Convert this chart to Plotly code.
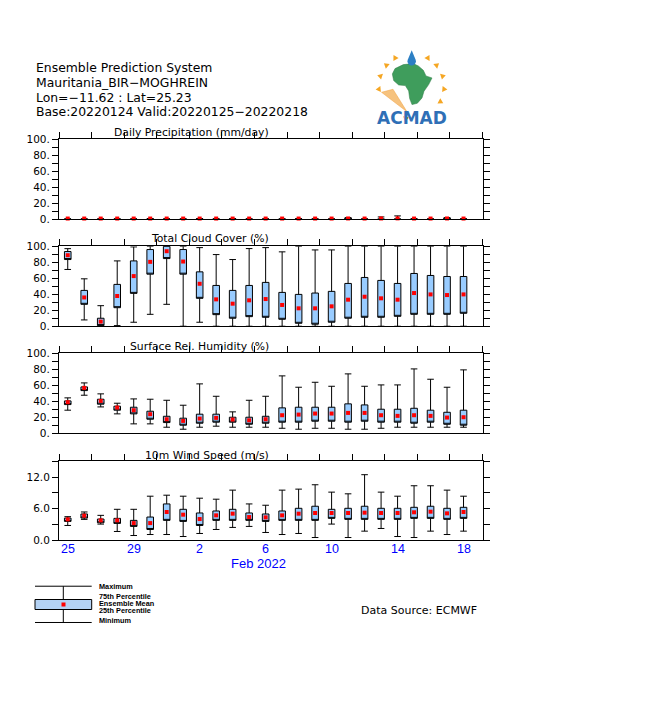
import numpy as np
import plotly.graph_objects as go

# page has an 8px body margin: the figure is sized to fit inside the 651x716 window
OFF = 8
W, H = 651 - 2 * OFF, 716 - 2 * OFF
S_Y, C_Y = 0.983, 344.0   # small vertical calibration of the capture
def px(x): return (x - OFF) / W
def py(y):
    yy = C_Y + (y - C_Y) / S_Y
    return 1 - (yy - OFF) / H

# ---------------- data ----------------
n_days = 25
day_index = list(range(n_days))
tick_idx = [0, 4, 8, 12, 16, 20, 24]
tick_labels = ["25", "29", "2", "6", "10", "14", "18"]
month_label = "Feb 2022"

header_lines = ["Ensemble Prediction System", "Mauritania_BIR\u2212MOGHREIN",
                "Lon=\u221211.62 : Lat=25.23", "Base:20220124 Valid:20220125\u221220220218"]

pr_max  = [0.5, 0.5, 0.5, 0.5, 0.5, 0.8, 0.5, 0.5, 0.8, 0.5, 0.8, 0.5, 0.5, 0.5, 0.8, 0.5, 0.5, 2.0, 0.5, 2.9, 4.2, 0.8, 0.5, 2.0, 0.8]
pr_q75  = [0.0, 0.0, 0.0, 0.0, 0.0, 0.5, 0.0, 0.0, 0.6, 0.0, 0.6, 0.0, 0.0, 0.0, 0.5, 0.0, 0.0, 1.6, 0.0, 0.0, 0.3, 0.0, 0.0, 1.6, 0.0]
pr_q25  = [0.0] * 25
pr_mean = [0.9, 0.9, 0.9, 0.9, 0.9, 0.9, 0.9, 0.9, 0.9, 0.9, 0.9, 0.9, 0.9, 0.9, 0.9, 0.9, 0.9, 1.0, 0.9, 1.0, 1.1, 0.9, 0.9, 1.0, 0.9]
pr_min  = [0.0] * 25

cc_max  = [97.0, 59.3, 25.7, 81.7, 99.2, 100, 100, 100, 98.3, 89.6, 83.4, 97.1, 98.3, 93.0, 100, 95.4, 95.4, 100, 100, 100, 100, 100, 100, 100, 100]
cc_q75  = [93.4, 44.8, 10.0, 52.3, 81.7, 95.9, 100, 95.9, 68.0, 51.0, 44.8, 51.0, 54.8, 42.3, 39.8, 41.5, 43.6, 53.5, 61.0, 57.3, 53.5, 66.0, 63.5, 62.2, 62.2]
cc_q25  = [83.4, 27.4, 0.8, 23.2, 41.1, 65.1, 84.6, 65.1, 34.9, 14.5, 10.0, 12.0, 11.2, 8.7, 3.7, 2.5, 5.0, 10.0, 11.2, 11.2, 12.4, 14.9, 14.9, 14.9, 16.2]
cc_mean = [88.8, 36.0, 5.8, 37.8, 62.7, 80.5, 93.8, 80.9, 53.1, 33.6, 28.2, 32.4, 34.0, 26.6, 22.4, 22.4, 24.9, 33.2, 36.9, 34.9, 33.2, 41.5, 39.8, 39.0, 39.8]
cc_min  = [71.0, 7.9, 0.0, 0.8, 5.0, 14.9, 27.4, 0.0, 5.0, 0.0, 0.0, 0.0, 0.0, 0.0, 0.0, 0.0, 0.0, 0.0, 0.0, 0.0, 0.0, 0.0, 0.0, 0.0, 0.0]

rh_max  = [44.2, 62.9, 49.2, 37.5, 42.9, 42.5, 41.2, 35.0, 61.7, 46.2, 26.7, 41.2, 46.2, 71.7, 57.5, 63.7, 58.7, 74.2, 58.7, 60.4, 60.4, 80.4, 67.5, 57.5, 79.2]
rh_q75  = [40.4, 57.9, 42.5, 33.8, 32.5, 27.5, 21.2, 18.8, 23.8, 23.8, 20.0, 20.0, 21.2, 31.7, 32.5, 32.5, 32.5, 36.7, 35.4, 30.0, 30.0, 31.2, 28.8, 26.2, 28.8]
rh_q25  = [35.8, 53.3, 36.3, 28.8, 24.2, 17.5, 13.3, 10.0, 12.5, 13.8, 13.8, 11.2, 12.5, 13.8, 13.8, 15.0, 15.0, 13.8, 15.0, 13.8, 13.8, 12.5, 13.8, 11.2, 10.0]
rh_mean = [38.8, 56.7, 40.4, 32.1, 28.8, 23.8, 17.5, 15.4, 18.3, 19.2, 17.1, 16.2, 17.5, 22.5, 23.3, 24.6, 24.6, 25.4, 25.4, 22.5, 21.7, 22.5, 21.7, 19.6, 20.0]
rh_min  = [28.8, 47.5, 32.9, 24.2, 11.7, 11.7, 7.5, 5.0, 7.5, 8.8, 7.5, 7.5, 7.5, 6.2, 5.0, 6.2, 6.2, 5.0, 5.0, 6.2, 7.5, 7.5, 7.5, 7.5, 7.5]

ws_max  = [4.47, 5.36, 4.72, 5.87, 5.87, 8.36, 8.55, 8.36, 7.98, 7.79, 9.51, 6.89, 6.64, 9.51, 9.70, 10.53, 9.13, 8.81, 12.44, 9.13, 8.36, 10.34, 10.34, 9.51, 8.36]
ws_q75  = [4.20, 4.98, 4.02, 4.15, 3.77, 4.40, 6.89, 5.87, 5.17, 5.55, 5.87, 5.17, 4.98, 5.55, 6.06, 6.45, 5.87, 6.06, 6.45, 6.06, 6.06, 6.25, 6.45, 6.06, 6.25]
ws_q25  = [3.57, 4.20, 3.32, 3.19, 2.62, 2.04, 3.77, 3.57, 2.80, 3.77, 3.77, 3.77, 3.57, 3.77, 3.77, 3.77, 4.15, 3.96, 3.96, 3.96, 3.96, 4.15, 4.15, 3.96, 4.15]
ws_mean = [3.96, 4.66, 3.77, 3.77, 3.25, 3.25, 5.36, 4.85, 4.02, 4.72, 5.04, 4.40, 4.34, 4.72, 5.04, 5.17, 5.17, 5.17, 5.23, 5.17, 5.17, 5.30, 5.42, 5.10, 5.36]
ws_min  = [2.80, 3.96, 3.06, 1.66, 0.89, 1.08, 1.08, 0.70, 1.28, 2.04, 2.43, 2.62, 1.47, 1.08, 1.28, 0.51, 3.06, 0.51, 1.72, 2.23, 0.70, 0.51, 1.72, 1.08, 1.72]

pct_ticks = [0, 10, 20, 30, 40, 50, 60, 70, 80, 90, 100]
pct_text = ["0.", "", "20.", "", "40.", "", "60.", "", "80.", "", "100."]
ws_ticks = [0, 3, 6, 9, 12, 15]
ws_text = ["0.0", "", "6.0", "", "12.0", ""]

panels = [
    dict(title="Daily Precipitation (mm/day)", top=139, bot=219, rng=[0, 100], tv=pct_ticks, tt=pct_text,
         mx=pr_max, q3=pr_q75, q1=pr_q25, mean=pr_mean, mn=pr_min, ty=132),
    dict(title="Total Cloud Cover (%)", top=246, bot=326, rng=[0, 100], tv=pct_ticks, tt=pct_text,
         mx=cc_max, q3=cc_q75, q1=cc_q25, mean=cc_mean, mn=cc_min, ty=238.5),
    dict(title="Surface Rel. Humidity (%)", top=353, bot=433, rng=[0, 100], tv=pct_ticks, tt=pct_text,
         mx=rh_max, q3=rh_q75, q1=rh_q25, mean=rh_mean, mn=rh_min, ty=346.5),
    dict(title="10m Wind Speed (m/s)", top=461, bot=540, rng=[0, 15], tv=ws_ticks, tt=ws_text,
         mx=ws_max, q3=ws_q75, q1=ws_q25, mean=ws_mean, mn=ws_min, ty=455.5),
]

FONT = "DejaVu Sans"
BOXFILL = "#99ccff"
xr = [-0.53, 25.15]
top_ticks = list(np.linspace(xr[0], xr[1], 14))
xdom = [px(59), px(482.5)]

fig = go.Figure()
layout = dict(width=W, height=H, margin=dict(l=0, r=0, t=0, b=0),
              paper_bgcolor="white", plot_bgcolor="white", showlegend=False)
annotations = []
shapes = []

for k, p in enumerate(panels, start=1):
    xa = "x" if k == 1 else f"x{k}"
    ya = "y" if k == 1 else f"y{k}"
    fig.add_trace(go.Box(
        x=day_index, q1=p["q1"], median=p["q1"], q3=p["q3"],
        lowerfence=p["mn"], upperfence=p["mx"],
        width=0.4, whiskerwidth=1, boxpoints=False,
        fillcolor=BOXFILL, line=dict(color="black", width=1),
        xaxis=xa, yaxis=ya, hoverinfo="skip"))
    fig.add_trace(go.Scatter(
        x=day_index, y=p["mean"], mode="markers",
        marker=dict(symbol="square", size=4, color="#ff0000"),
        cliponaxis=False, xaxis=xa, yaxis=ya, hoverinfo="skip"))
    layout["xaxis" if k == 1 else f"xaxis{k}"] = dict(
        domain=xdom, range=xr, anchor=ya, side="top",
        showline=True, mirror=True, linecolor="black", linewidth=1,
        ticks="outside", ticklen=6, tickcolor="black", tickwidth=1,
        tickvals=top_ticks, showticklabels=False,
        showgrid=False, zeroline=False, fixedrange=True)
    layout["yaxis" if k == 1 else f"yaxis{k}"] = dict(
        domain=[py(p["bot"]), py(p["top"])], range=p["rng"], anchor=xa,
        showline=True, mirror="ticks", linecolor="black", linewidth=1,
        ticks="outside", ticklen=6, tickcolor="black", tickwidth=1,
        tickvals=p["tv"], ticktext=p["tt"],
        tickfont=dict(family=FONT, size=10.5, color="black"),
        showgrid=False, zeroline=False, fixedrange=True)
    annotations.append(dict(text=p["title"], x=px(269.5), y=py(p["ty"]), xref="paper", yref="paper",
                            xanchor="right", yanchor="middle", showarrow=False, borderpad=0,
                            font=dict(family=FONT, size=10.8, color="black")))

# bottom date labels
for i, t in zip(tick_idx, tick_labels):
    annotations.append(dict(text=t, x=i, y=py(549), xref="x4", yref="paper",
                            xanchor="center", yanchor="middle", showarrow=False, borderpad=0,
                            font=dict(family="Liberation Sans", size=12.5, color="#0000ff")))
annotations.append(dict(text=month_label, x=px(258.8), y=py(563), xref="paper", yref="paper",
                        xanchor="center", yanchor="middle", showarrow=False, borderpad=0,
                        font=dict(family="Liberation Sans", size=13, color="#0000ff")))

# header
for line, yy in zip(header_lines, [67.3, 82.5, 96.8, 111.0]):
    annotations.append(dict(text=line, x=px(34.5), y=py(yy), xref="paper", yref="paper",
                            xanchor="left", yanchor="middle", showarrow=False, borderpad=0,
                            font=dict(family=FONT, size=12.4, color="black")))

annotations.append(dict(text="Data Source: ECMWF", x=px(360), y=py(610.5), xref="paper", yref="paper",
                        xanchor="left", yanchor="middle", showarrow=False, borderpad=0,
                        font=dict(family=FONT, size=11, color="black")))

# legend (explanatory box)
def pline(x0, y0, x1, y1, w=1, c="black"):
    shapes.append(dict(type="line", xref="paper", yref="paper", x0=px(x0), y0=py(y0), x1=px(x1), y1=py(y1),
                       line=dict(color=c, width=w)))
pline(35, 586, 91.7, 586)
pline(35, 622.3, 91.7, 622.3)
pline(63.3, 586, 63.3, 599.3)
pline(63.3, 609.3, 63.3, 622.3)
shapes.append(dict(type="rect", xref="paper", yref="paper", x0=px(35), y0=py(599.3), x1=px(91.7), y1=py(609.3),
                   fillcolor="#b4d2f4", line=dict(color="black", width=1)))
shapes.append(dict(type="rect", xref="paper", yref="paper", x0=px(61.5), y0=py(602.3), x1=px(65.5), y1=py(606.3),
                   fillcolor="#ff0000", line=dict(width=0)))
for txt, yy in zip(["Maximum", "75th Percentile", "Ensemble Mean", "25th Percentile", "Minimum"],
                   [586.5, 596.0, 603.5, 610.5, 620.5]):
    annotations.append(dict(text=txt, x=px(97.5), y=py(yy), xref="paper", yref="paper",
                            xanchor="left", yanchor="middle", showarrow=False, borderpad=0,
                            font=dict(family="Liberation Sans", size=7.3, color="black", weight="bold")))

# ---- ACMAD logo (decoration) ----
def ppath(pts):
    return "M " + " L ".join(f"{px(a):.5f},{py(b):.5f}" for a, b in pts) + " Z"
africa_z = [(105, 70), (130, 58), (160, 55), (175, 62), (190, 75), (198, 92), (216, 98), (206, 118),
            (192, 138), (186, 158), (172, 174), (156, 178), (149, 160), (146, 137), (136, 121),
            (116, 119), (101, 106), (97, 86)]
africa = [(360 + a / 3, 45 + b / 3) for a, b in africa_z]
shapes.append(dict(type="path", xref="paper", yref="paper", path=ppath(africa),
                   fillcolor="#3f9d5c", line=dict(color="#2f7d46", width=0.5)))
shapes.append(dict(type="path", xref="paper", yref="paper",
                   path=ppath([(381.5, 92), (393, 89), (407, 111.5)]),
                   fillcolor="#f6c27e", line=dict(color="#f0a040", width=0.5)))
drop = [(411.7, 50)]
for ang in np.linspace(-20, 200, 12):
    drop.append((411.7 + 4.2 * np.cos(np.radians(ang)), 61 + 4.2 * np.sin(np.radians(ang))))
shapes.append(dict(type="path", xref="paper", yref="paper", path=ppath(drop),
                   fillcolor="#2c7fc4", line=dict(width=0)))
cx, cy, R = 411.5, 86.0, 31.0
for ang in [120, 140, 162, 185, 60, 40, 18, -5, -28, -100]:
    a = np.radians(ang)
    tip = (cx + (R + 5) * np.cos(a), cy - (R + 5) * np.sin(a))
    b1 = (cx + R * np.cos(a) - 3 * np.sin(a), cy - R * np.sin(a) - 3 * np.cos(a))
    b2 = (cx + R * np.cos(a) + 3 * np.sin(a), cy - R * np.sin(a) + 3 * np.cos(a))
    shapes.append(dict(type="path", xref="paper", yref="paper", path=ppath([b1, tip, b2]),
                       fillcolor="#f5a623", line=dict(width=0)))
annotations.append(dict(text="<b>ACMAD</b>", x=px(411.7), y=py(117.5), xref="paper", yref="paper",
                        xanchor="center", yanchor="middle", showarrow=False, borderpad=0,
                        font=dict(family=FONT, size=17, color="#2f6fb6")))

layout["annotations"] = annotations
layout["shapes"] = shapes
fig.update_layout(**layout)
fig.write_html("out.html")
